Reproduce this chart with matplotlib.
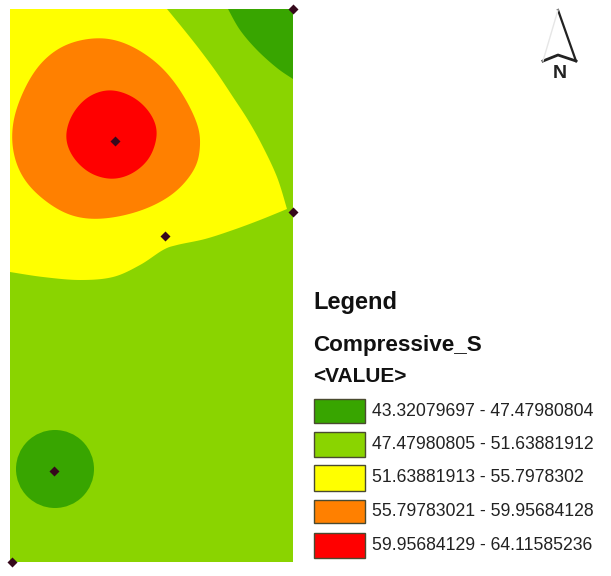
import numpy as np
import matplotlib
matplotlib.use("Agg")
import matplotlib.pyplot as plt
from matplotlib.patches import Polygon, Rectangle, Circle

plt.rcParams["font.family"] = ["Liberation Sans", "DejaVu Sans"]

# everything, in image pixels
map_x = [10, 293]
map_y = [9, 562]

green_dark = "#38a500"
green = "#8ad400"
yellow = "#ffff00"
orange = "#ff8000"
red = "#ff0000"

class_labels = [
    "43.32079697 - 47.47980804",
    "47.47980805 - 51.63881912",
    "51.63881913 - 55.7978302",
    "55.79783021 - 59.95684128",
    "59.95684129 - 64.11585236",
]
class_colors = [green_dark, green, yellow, orange, red]
box_top = [399, 432, 465, 500, 533]
box_bottom = [423, 457, 491, 523, 558]

# yellow zone: upper edge, then lower edge, meeting at the right sample point
yellow_upper_x = [167, 185, 200, 217, 233, 248, 262, 277, 287]
yellow_upper_y = [9, 31, 50, 73, 97, 120, 145, 177, 209]
yellow_lower_x = [287, 260, 233, 205, 177, 163, 140, 113, 80, 43, 10]
yellow_lower_y = [209, 220, 230, 239, 245, 250, 265, 277, 280, 277, 272]

orange_x = [97, 127, 157, 180, 197, 200, 194, 173, 140, 100, 67, 37, 19, 12, 17, 36, 63]
orange_y = [38, 44, 63, 90, 123, 147, 170, 194, 211, 219, 214, 194, 170, 140, 107, 69, 46]

red_x = [110, 133, 150, 157, 150, 133, 112, 90, 73, 66, 72, 88]
red_y = [90, 97, 113, 133, 157, 173, 179, 173, 157, 137, 115, 97]

dark_x = [228, 240, 257, 277, 293]
dark_y = [9, 30, 50, 68, 79]

low_center = (55, 469)
low_radius = 39

sample_x = [54, 115, 165, 293, 293, 12]
sample_y = [471, 141, 236, 212, 9, 562]

arrow_x = [558, 576, 558, 543]
arrow_y = [10, 61, 55, 61]


def spline(pts, closed):
    # catmull-rom through the read outline
    pts = np.asarray(pts, dtype=float)
    n = len(pts)
    out = []
    for i in range(n if closed else n - 1):
        if closed:
            p0, p1, p2, p3 = pts[i - 1], pts[i], pts[(i + 1) % n], pts[(i + 2) % n]
        else:
            p0, p1, p2, p3 = pts[max(i - 1, 0)], pts[i], pts[i + 1], pts[min(i + 2, n - 1)]
        for t in np.linspace(0, 1, 12, endpoint=False):
            out.append(0.5 * (2 * p1 + (p2 - p0) * t + (2 * p0 - 5 * p1 + 4 * p2 - p3) * t ** 2
                              + (3 * p1 - p0 - 3 * p2 + p3) * t ** 3))
    if not closed:
        out.append(pts[-1])
    return np.array(out)


def blob(xs, ys, win=9):
    # closed outline with the hand-read kinks averaged out
    pts = spline(np.column_stack([xs, ys]), True)
    wrapped = np.vstack([pts[-win:], pts, pts[:win]])
    kernel = np.ones(win) / win
    smooth = np.column_stack([np.convolve(wrapped[:, k], kernel, mode="same") for k in (0, 1)])
    return smooth[win:-win]


fig = plt.figure(figsize=(6.11, 5.76), dpi=100)
ax = fig.add_axes([0, 0, 1, 1])
ax.set_xlim(0, 611)
ax.set_ylim(576, 0)
ax.axis("off")

ax.add_patch(Rectangle((map_x[0], map_y[0]), map_x[1] - map_x[0], map_y[1] - map_y[0],
                       fc=green, ec="none", zorder=1))

yellow_outline = np.vstack([
    spline(np.column_stack([yellow_upper_x, yellow_upper_y]), False),
    spline(np.column_stack([yellow_lower_x, yellow_lower_y]), False),
    [[map_x[0], map_y[0]]],
])
ax.add_patch(Polygon(yellow_outline, fc=yellow, ec="none", zorder=2))

dark_outline = np.vstack([
    spline(np.column_stack([dark_x, dark_y]), False),
    [[map_x[1], map_y[0]]],
])
ax.add_patch(Polygon(dark_outline, fc=green_dark, ec="none", zorder=2))
ax.add_patch(Polygon(blob(orange_x, orange_y), fc=orange, ec="none", zorder=3))
ax.add_patch(Polygon(blob(red_x, red_y), fc=red, ec="none", zorder=4))
ax.add_patch(Circle(low_center, low_radius, fc=green_dark, ec="none", zorder=2))
ax.scatter(sample_x, sample_y, s=26, marker="D", c="#36091c", linewidths=0, zorder=6,
           clip_on=False)

# north arrow
ax.plot(arrow_x[:2], arrow_y[:2], color="#222222", lw=1.6, zorder=5)
ax.plot(arrow_x[1:], arrow_y[1:], color="#222222", lw=2.0, zorder=5)
ax.plot([arrow_x[0], arrow_x[3]], [arrow_y[0], arrow_y[3]], color="#e6e6e6", lw=1.0, zorder=5)
ax.text(560, 74, "N", fontsize=14, fontweight="bold", color="#222222", ha="center", va="center")

# legend
ax.text(313, 303, "Legend", fontsize=17, fontweight="bold", color="#111111", va="center")
ax.text(313, 346, "Compressive_S", fontsize=16.2, fontweight="bold", color="#111111", va="center")
ax.text(313, 377, "<VALUE>", fontsize=15, fontweight="bold", color="#111111", va="center")
for label, col, top, bottom in zip(class_labels, class_colors, box_top, box_bottom):
    ax.add_patch(Rectangle((314, top), 51, bottom - top, fc=col, ec="#4a4a30", lw=1.0, zorder=3))
    ax.text(372, (top + bottom) / 2, label, fontsize=12.7, color="#222222", va="center")

fig.savefig("out.png", dpi=100)
